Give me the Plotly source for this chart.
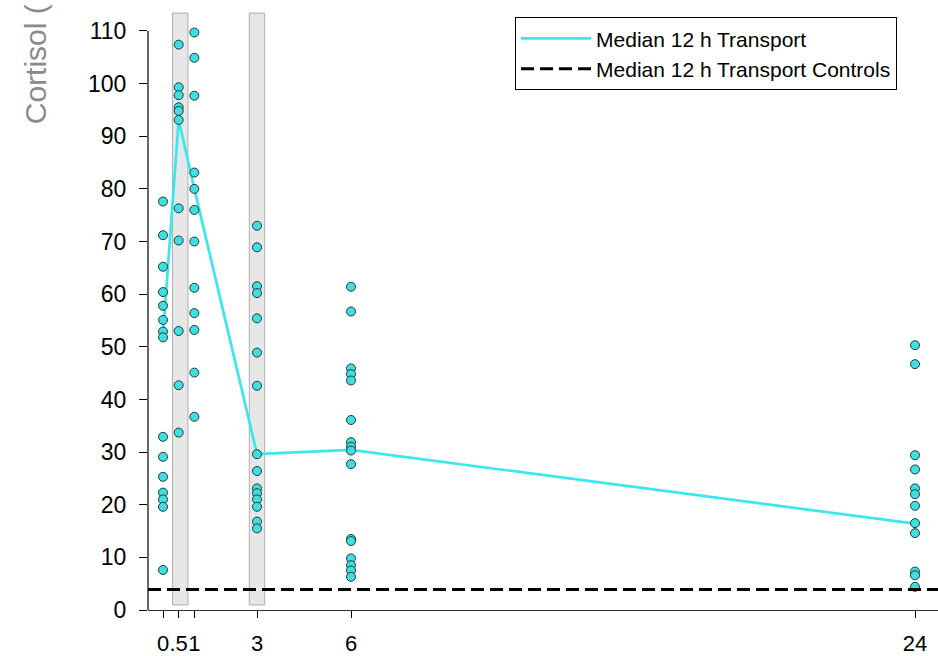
import plotly.graph_objects as go

# ---- data ----
times = [0, 0.5, 1, 3, 6, 24]
tick_labels = ["0", ".5", "1", "3", "6", "24"]

cortisol_t0 = [77.6, 71.2, 65.2, 60.4, 57.8, 55.1, 52.9, 51.8, 32.9, 29.1, 25.3, 22.3, 21.0, 19.6, 7.6]
cortisol_t05 = [107.4, 99.3, 97.8, 95.5, 94.8, 93.1, 76.3, 70.2, 53.0, 42.7, 33.7]
cortisol_t1 = [109.7, 104.9, 97.7, 83.1, 80.0, 76.0, 70.0, 61.2, 56.4, 53.2, 45.1, 36.7]
cortisol_t3 = [73.0, 68.9, 61.5, 60.2, 55.4, 48.9, 42.6, 29.6, 26.4, 23.1, 22.2, 21.0, 19.6, 16.8, 15.5]
cortisol_t6 = [61.4, 56.7, 45.9, 44.8, 43.6, 36.1, 31.9, 31.0, 30.3, 27.7, 13.5, 13.1, 9.8, 8.5, 7.5, 6.3]
cortisol_t24 = [50.3, 46.7, 29.4, 26.7, 23.1, 22.0, 19.8, 16.5, 14.6, 7.3, 6.6, 4.4]

median_transport = [52.4, 93.1, 80.0, 29.6, 30.4, 16.4]
median_controls = 3.9

highlight_times = [0.5, 3]
y_ticks = [0, 10, 20, 30, 40, 50, 60, 70, 80, 90, 100, 110]

groups = [cortisol_t0, cortisol_t05, cortisol_t1, cortisol_t3, cortisol_t6, cortisol_t24]

# ---- styling ----
FONT = "Arial, Liberation Sans, sans-serif"
X_RANGE = [-0.479, 24.734]
Y_RANGE = [0, 113.98]
band_half = 0.245

fig = go.Figure()

# median line
fig.add_trace(go.Scatter(
    x=times, y=median_transport, mode="lines",
    line=dict(color="#3BE6EC", width=2.7),
    name="Median 12 h Transport", showlegend=True,
))

# legend entry for control median (drawn as a shape)
fig.add_trace(go.Scatter(
    x=[None], y=[None], mode="lines",
    line=dict(color="black", width=3, dash="13px,6px"),
    name="Median 12 h Transport Controls", showlegend=True,
))

# points
xs, ys = [], []
for t, vals in zip(times, groups):
    xs += [t] * len(vals)
    ys += vals
fig.add_trace(go.Scatter(
    x=xs, y=ys, mode="markers",
    marker=dict(size=9, color="#40DEDF", line=dict(color="#1E3C3E", width=1)),
    showlegend=False,
))

shapes = []
for t in highlight_times:
    shift = 0.05 if t < 1 else 0.0
    shapes.append(dict(type="rect", xref="x", yref="y",
                       x0=t - band_half + shift, x1=t + band_half + shift,
                       y0=0.95, y1=113.4,
                       fillcolor="#E7E7E7", line=dict(color="#AEAEAE", width=1), layer="below"))
# control median dashed line
shapes.append(dict(type="line", xref="paper", yref="y", x0=0, x1=1,
                   y0=median_controls, y1=median_controls,
                   line=dict(color="black", width=3, dash="13px,6px"), layer="above"))
# y axis line (0..110 only)
shapes.append(dict(type="line", xref="paper", yref="y", x0=0, x1=0,
                   y0=y_ticks[0], y1=y_ticks[-1],
                   line=dict(color="black", width=1.2)))
fig.update_layout(shapes=shapes)

fig.update_layout(
    width=938, height=656,
    margin=dict(l=148, r=0, t=10, b=46, autoexpand=False),
    paper_bgcolor="white", plot_bgcolor="white",
    font=dict(family=FONT, color="black"),
    legend=dict(
        x=0.4646, y=0.988, xanchor="left", yanchor="top",
        bgcolor="white", bordercolor="black", borderwidth=1,
        font=dict(size=21, family=FONT, color="black"),
        itemwidth=70, tracegroupgap=0,
    ),
    annotations=[dict(
        text="Cortisol (", textangle=-90, showarrow=False,
        xref="paper", yref="paper", x=-0.142, y=0.806,
        xanchor="center", yanchor="bottom",
        font=dict(size=30, family=FONT, color="#8A8A8A"),
    )],
)

fig.update_xaxes(
    range=X_RANGE, tickmode="array", tickvals=times, ticktext=tick_labels,
    tickangle=0, showgrid=False, zeroline=False, automargin=False,
    showline=True, linecolor="#333333", linewidth=1,
    ticks="outside", ticklen=7, tickcolor="black", tickwidth=1.2,
    tickfont=dict(size=22, family=FONT, color="black"),
    ticklabelstandoff=7,
)
fig.update_yaxes(
    range=Y_RANGE, tickmode="array", tickvals=y_ticks,
    showgrid=False, zeroline=False, showline=False, automargin=False,
    ticks="outside", ticklen=8, tickcolor="black", tickwidth=1.2,
    tickfont=dict(size=23, family=FONT, color="black"),
    ticklabelstandoff=8,
)

fig.write_html(
    "out.html",
    config={"displayModeBar": False},
    post_script="document.body.style.margin='0';document.body.style.padding='0';document.body.style.overflow='hidden';",
)
